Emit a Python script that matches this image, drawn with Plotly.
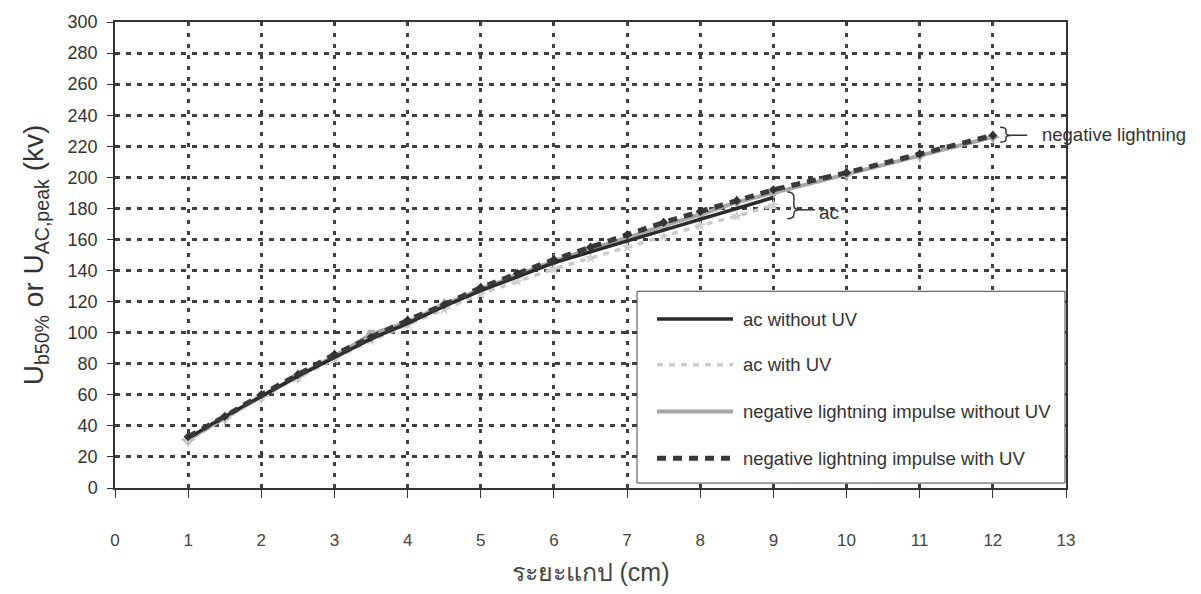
import plotly.graph_objects as go

# Gap distance (cm)
gap_ac = [1, 1.5, 2, 2.5, 3, 3.5, 4, 4.5, 5, 5.5, 6, 6.5, 7, 7.5, 8, 8.5, 9]
gap_li = [1, 1.5, 2, 2.5, 3, 3.5, 4, 4.5, 5, 5.5, 6, 6.5, 7, 7.5, 8, 8.5, 9, 10, 11, 12]

# Breakdown voltages (kV)
ac_without_uv = [32, 46, 59, 72, 84, 96, 106, 117, 127, 136, 145, 152, 159, 166, 173, 180, 187]
ac_with_uv = [31, 45, 58, 71, 83, 95, 105, 115, 125, 133, 141, 148, 155, 162, 169, 175, 182]
li_without_uv = [31, 45, 59, 72, 85, 99, 107, 118, 128, 137, 146, 154, 161, 169, 176, 184, 190, 202, 214, 226]
li_with_uv = [33, 46, 60, 73, 86, 97, 108, 118, 129, 138, 147, 155, 163, 171, 178, 185, 192, 203, 215, 227]

series_names = [
    "ac without UV",
    "ac with UV",
    "negative lightning impulse without UV",
    "negative lightning impulse with UV",
]

x_ticks = list(range(0, 14))
y_ticks = list(range(0, 301, 20))

W, H = 1201, 594
L, R, T, B = 115, 1066, 19, 488  # plot box in pixels

def px(xp):
    return (xp - L) / (R - L)

def py(yp):
    return (B - yp) / (B - T)

styles = {
    "ac without UV": dict(color="#2b2b2b", width=3.5, dash="solid"),
    "ac with UV": dict(color="#cbcbcb", width=3.5, dash="6px,6px"),
    "negative lightning impulse without UV": dict(color="#a6a6a6", width=4, dash="solid"),
    "negative lightning impulse with UV": dict(color="#3a3a3a", width=5, dash="9px,7px"),
}

fig = go.Figure()

li_symbols = ["star-diamond"] * len(gap_li)
li_symbols[gap_li.index(3.5)] = "pentagon"
li_angles = [0] * len(gap_li)
li_angles[gap_li.index(3.5)] = 180

fig.add_trace(go.Scatter(
    x=gap_li, y=li_without_uv, mode="lines+markers", name=series_names[2],
    line=styles[series_names[2]],
    marker=dict(symbol=li_symbols, angle=li_angles, size=11, color="#b0b0b0"),
    showlegend=False,
))
fig.add_trace(go.Scatter(
    x=gap_ac, y=ac_with_uv, mode="lines+markers", name=series_names[1],
    line=styles[series_names[1]],
    marker=dict(symbol="star", size=9, color="#d0d0d0"),
    showlegend=False,
))
fig.add_trace(go.Scatter(
    x=gap_ac, y=ac_without_uv, mode="lines", name=series_names[0],
    line=styles[series_names[0]],
    showlegend=False,
))
fig.add_trace(go.Scatter(
    x=gap_li, y=li_with_uv, mode="lines+markers", name=series_names[3],
    line=styles[series_names[3]],
    marker=dict(symbol="diamond", size=7, color="#333333"),
    showlegend=False,
))

shapes = []
annotations = []

# Brace pointing at the two ac curves
shapes.append(dict(
    type="path", xref="x", yref="y",
    path="M 9.19,190.6 Q 9.28,190.6 9.28,187.5 L 9.28,182 Q 9.28,179.1 9.36,179.1 "
         "Q 9.28,179.1 9.28,176.5 L 9.28,176.3 Q 9.28,173.4 9.19,173.4",
    line=dict(color="#333333", width=1.5),
))
shapes.append(dict(type="line", xref="x", yref="y", x0=9.36, x1=9.57, y0=179.1, y1=179.1,
                   line=dict(color="#333333", width=1.5)))
annotations.append(dict(x=9.6, y=177.2, xref="x", yref="y", text="ac", showarrow=False,
                        xanchor="left", yanchor="middle", font=dict(size=19, color="#333333")))

# Brace at the end of the impulse curves
shapes.append(dict(
    type="path", xref="x", yref="y",
    path="M 12.10,232.2 Q 12.18,232.2 12.18,230.2 L 12.18,228.6 Q 12.18,227.1 12.26,227.1 "
         "Q 12.18,227.1 12.18,225.6 L 12.18,224.6 Q 12.18,222.6 12.10,222.6",
    line=dict(color="#333333", width=1.5),
))
shapes.append(dict(type="line", xref="x", yref="y", x0=12.26, x1=12.47, y0=227.1, y1=227.1,
                   line=dict(color="#333333", width=1.5)))
annotations.append(dict(x=12.65, y=227.5, xref="x", yref="y", text="negative lightning",
                        showarrow=False, xanchor="left", yanchor="middle",
                        font=dict(size=18.5, color="#333333")))

# Legend box
shapes.append(dict(type="rect", xref="paper", yref="paper",
                   x0=px(637), x1=px(1065), y0=py(483), y1=py(290),
                   fillcolor="white", line=dict(color="#444444", width=1), layer="above"))
legend_rows = [318, 364, 411, 458]
for name, row in zip(series_names, legend_rows):
    st = styles[name]
    shapes.append(dict(type="line", xref="paper", yref="paper",
                       x0=px(657), x1=px(733), y0=py(row), y1=py(row),
                       line=dict(color=st["color"], width=st["width"], dash=st["dash"]),
                       layer="above"))
    annotations.append(dict(x=px(741), y=py(row), xref="paper", yref="paper", text=name,
                            showarrow=False, xanchor="left", yanchor="middle",
                            font=dict(size=18.5, color="#333333")))

fig.update_layout(
    width=W, height=H,
    margin=dict(l=L, r=W - R, t=T, b=H - B),
    paper_bgcolor="white", plot_bgcolor="white",
    font=dict(family="Liberation Sans, Arial, sans-serif", color="#333333"),
    shapes=shapes, annotations=annotations,
    showlegend=False,
)
fig.update_xaxes(
    range=[0, 13], tickmode="array", tickvals=x_ticks, ticktext=[str(v) for v in x_ticks],
    showgrid=True, gridcolor="#3f3f3f", gridwidth=2.5, griddash="4px,7px",
    showline=True, linecolor="#333333", linewidth=2, mirror=True,
    ticks="outside", ticklen=8, tickcolor="#333333", tickwidth=1,
    tickfont=dict(size=17, color="#444444"), ticklabelstandoff=28,
    zeroline=False,
    title=dict(text="ระยะแกป (cm)", font=dict(size=25, color="#444444"), standoff=14),
)
fig.update_yaxes(
    range=[0, 300], tickmode="array", tickvals=y_ticks,
    showgrid=True, gridcolor="#3f3f3f", gridwidth=2.5, griddash="5px,6px",
    showline=True, linecolor="#333333", linewidth=1.5, mirror=True,
    ticks="outside", ticklen=6, tickcolor="#333333", tickwidth=1,
    tickfont=dict(size=18, color="#333333"), ticklabelstandoff=6,
    zeroline=False,
    title=dict(text="U<sub>b50%</sub> or U<sub>AC,peak</sub> (kv)",
               font=dict(size=28, color="#333333"), standoff=16),
)

fig.write_html("out.html")
